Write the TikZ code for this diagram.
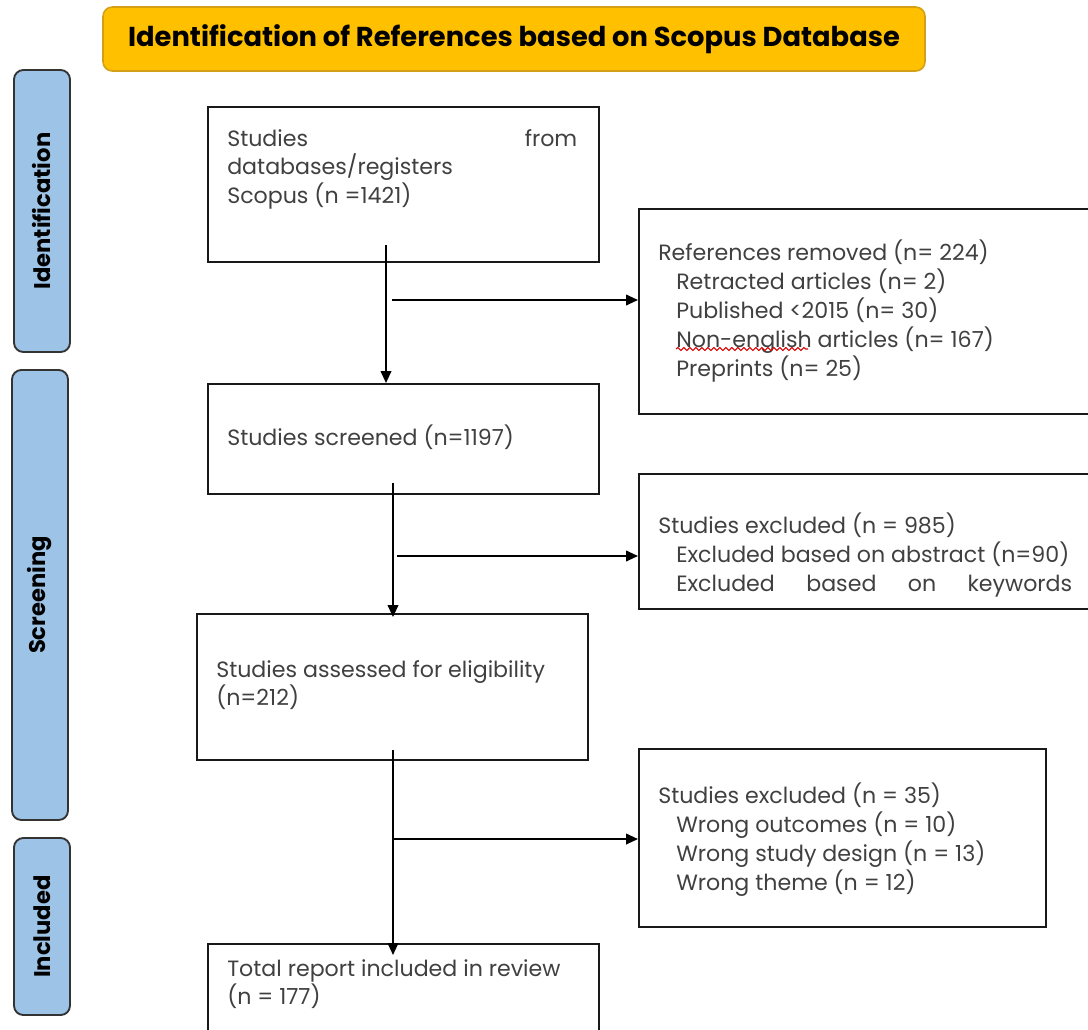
\documentclass[tikz,border=0pt]{standalone}
\usepackage{fontspec}
\setmainfont{Poppins}
\usetikzlibrary{arrows.meta,decorations.pathmorphing}
\definecolor{titlefill}{HTML}{FFC000}
\definecolor{titleline}{HTML}{D4A017}
\definecolor{sidefill}{HTML}{9DC3E6}
\definecolor{sideline}{HTML}{333333}
\definecolor{txtgray}{HTML}{404040}
\tikzset{
  box/.style={draw=black!90, line width=1.4pt, anchor=north west, inner sep=0pt},
  sidebox/.style={draw=sideline, fill=sidefill, line width=1.4pt, rounded corners=7pt,
    rotate=90, inner sep=0pt, font=\bfseries\fontsize{17}{20}\selectfont, text=black},
  titlebox/.style={draw=titleline, fill=titlefill, line width=1.2pt, rounded corners=7pt,
    inner sep=0pt, font=\bfseries\fontsize{20.5}{24}\selectfont, text=black},
  txt/.style={anchor=north west, inner sep=0pt, align=left, text=txtgray,
    font=\fontsize{16.6}{21.6}\selectfont},
  arr/.style={line width=1.4pt, -{Triangle[length=9pt,width=8pt]}},
}
\begin{document}
\begin{tikzpicture}[x=0.75pt,y=-0.75pt]
\path[use as bounding box] (0,0) rectangle (1088,1029);
\clip (0,0) rectangle (1088,1029);

% title
\node[titlebox, minimum width={822*0.75pt}, minimum height={64*0.75pt}] (title) at (514,39)
  {Identification of References based on Scopus Database};

% side labels
\node[sidebox, minimum width={282*0.75pt}, minimum height={56*0.75pt}] (ident) at (42,211) {Identification};
\node[sidebox, minimum width={450*0.75pt}, minimum height={56*0.75pt}] (screen) at (40,595) {Screening};
\node[sidebox, minimum width={177*0.75pt}, minimum height={56*0.75pt}] (incl) at (42,926.5) {Included};

% main boxes
\node[box, minimum width={391*0.75pt}, minimum height={155*0.75pt}] (b1) at (207,106) {};
\node[box, minimum width={391*0.75pt}, minimum height={110*0.75pt}] (b2) at (207,383) {};
\node[box, minimum width={391*0.75pt}, minimum height={146*0.75pt}] (b3) at (196,613) {};
\node[box, minimum width={391*0.75pt}, minimum height={110*0.75pt}] (b4) at (207,943) {};

% side boxes
\node[box, minimum width={470*0.75pt}, minimum height={205*0.75pt}] (r1) at (638,208) {};
\node[box, minimum width={470*0.75pt}, minimum height={135*0.75pt}] (r2) at (638,473) {};
\node[box, minimum width={407*0.75pt}, minimum height={178*0.75pt}] (r3) at (638,748) {};

% texts
\node[txt] (b1t) at (227,129) {\makebox[262.5pt][s]{Studies\hfill from}\\databases/registers\\Scopus (n =1421)};
\node[txt] (b2t) at (227,425) {Studies screened (n=1197)};
\node[txt] (b3t) at (216,660) {Studies assessed for eligibility\\(n=212)};
\node[txt] (b4t) at (227,959) {Total report included in review\\(n = 177)};

\node[txt] (r1t) at (658,240) {References removed (n= 224)\\
  \hspace*{13.5pt}Retracted articles (n= 2)\\
  \hspace*{13.5pt}Published <2015 (n= 30)\\
  \hspace*{13.5pt}Non-english articles (n= 167)\\
  \hspace*{13.5pt}Preprints (n= 25)};
\node[txt] (r2t) at (658,513) {Studies excluded (n = 985)\\
  \hspace*{13.5pt}Excluded based on abstract (n=90)\\
  \hspace*{13.5pt}\makebox[297pt][s]{Excluded\hfill based\hfill on\hfill keywords}};
\node[txt] (r3t) at (658,783) {Studies excluded (n = 35)\\
  \hspace*{13.5pt}Wrong outcomes (n = 10)\\
  \hspace*{13.5pt}Wrong study design (n = 13)\\
  \hspace*{13.5pt}Wrong theme (n = 12)};

% spell-check squiggle
\draw[red!85!black, line width=0.8pt, decorate,
  decoration={snake, amplitude=1.1pt, segment length=4.5pt}] (676,349) -- (808,349);

% connectors
\coordinate (c1) at (386,245);
\coordinate (h1) at (392,300);
\coordinate (c2) at (393,483);
\coordinate (h2) at (397,556);
\coordinate (c3) at (393,750);
\coordinate (h3) at (393,839);

\draw[arr] (c1) -- (c1 |- b2.north);
\draw[arr] (h1) -- (h1 -| r1.west);
\draw[arr, shorten >=-3pt] (c2) -- (c2 |- b3.north);
\draw[arr] (h2) -- (h2 -| r2.west);
\draw[arr, shorten >=-9pt] (c3) -- (c3 |- b4.north);
\draw[arr] (h3) -- (h3 -| r3.west);
\end{tikzpicture}
\end{document}
